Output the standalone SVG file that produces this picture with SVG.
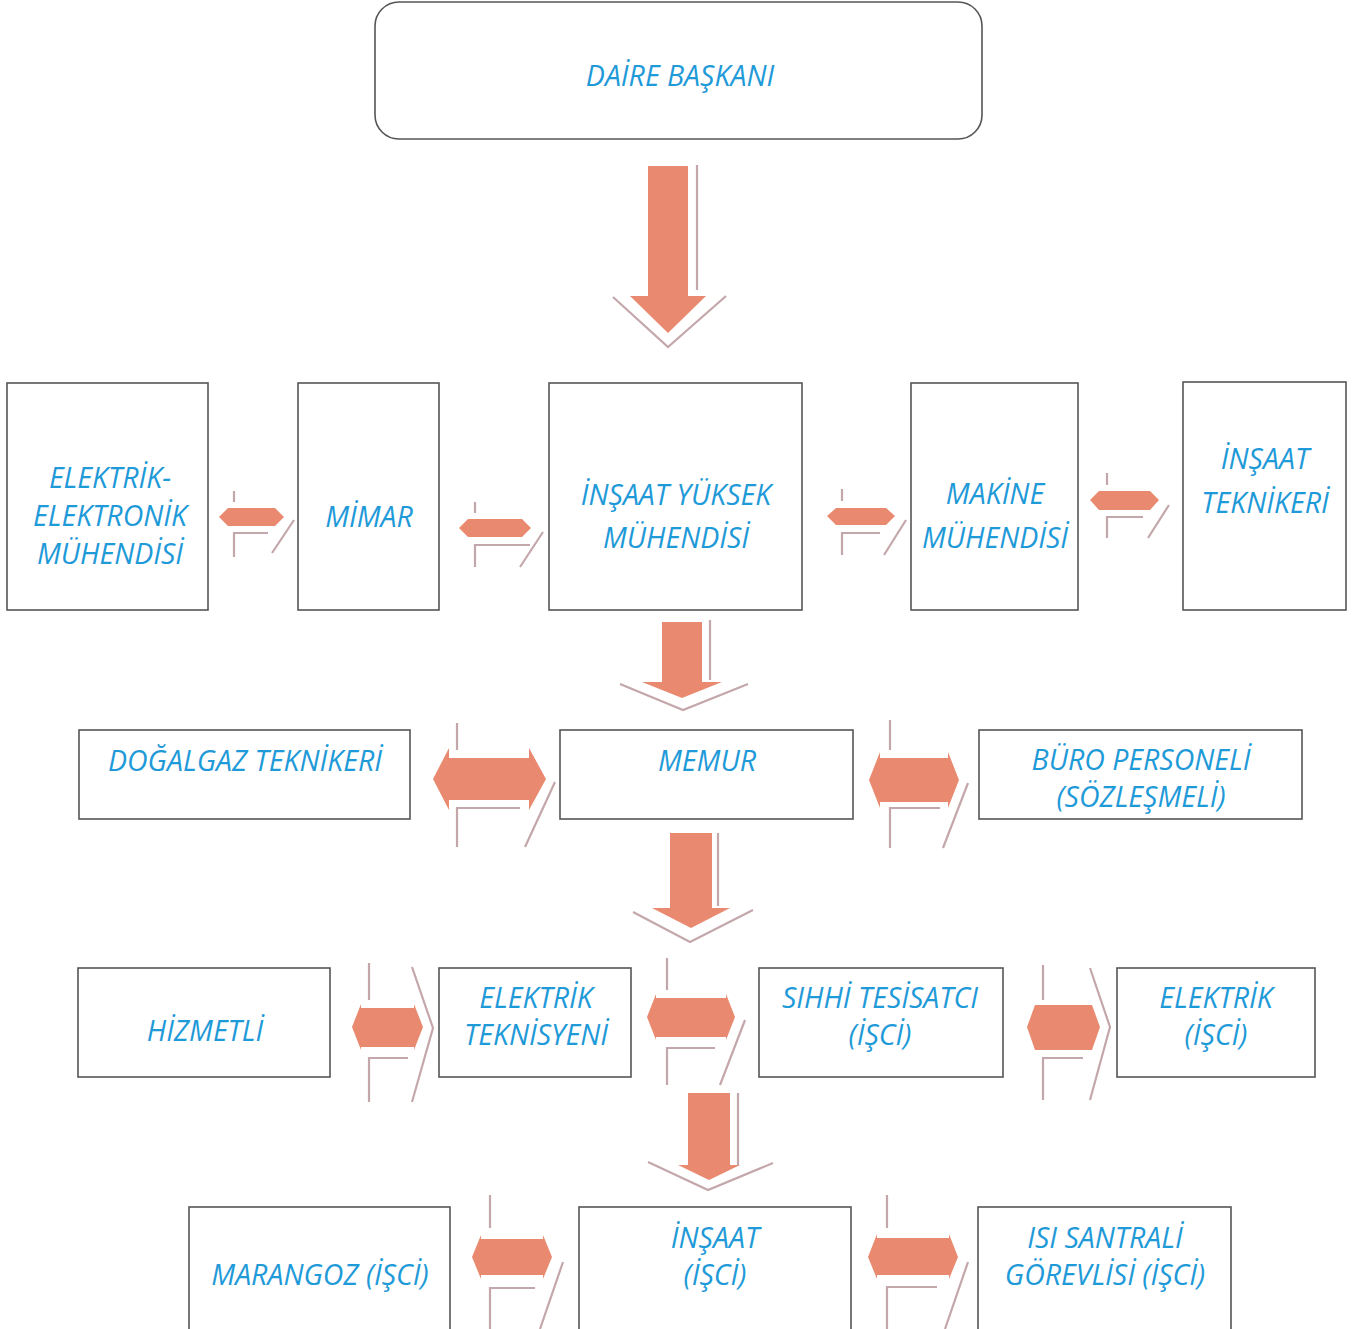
<svg xmlns="http://www.w3.org/2000/svg" width="1363" height="1329" viewBox="0 0 1363 1329">
<style>
.box{fill:#ffffff;stroke:#555555;stroke-width:1.6}
.t{font-family:"Open Sans","Noto Sans","Liberation Sans",sans-serif;font-style:italic;font-size:28.5px;fill:#1f9ad8;text-anchor:middle}
.arr{fill:#e98a70}
.sh{fill:none;stroke:#c4a7aa;stroke-width:2.2}
</style>
<rect width="1363" height="1329" fill="#ffffff"/>
<g id="connectors">
  <g id="down1">
    <polygon class="arr" points="648,166 688,166 688,296 706,296 668,333 630,296 648,296"/>
    <path class="sh" d="M697,165 V290 M613,297 L668,347 L726,296"/>
  </g>
  <g id="down2">
    <polygon class="arr" points="662,622 702,622 702,682 722,682 682,698 642,682 662,682"/>
    <path class="sh" d="M710,620 V680 M620,684 L683,710 L748,684"/>
  </g>
  <g id="down3">
    <polygon class="arr" points="670,833 712,833 712,908 730,908 691,928 652,908 670,908"/>
    <path class="sh" d="M718,833 V906 M633,912 L690,942 L753,910"/>
  </g>
  <g id="down4">
    <polygon class="arr" points="688,1093 730,1093 730,1165 740,1165 709,1180 678,1165 688,1165"/>
    <path class="sh" d="M738,1093 V1165 M648,1162 L708,1190 L773,1163"/>
  </g>
  <g id="h1">
    <polygon class="arr" points="219,517 228,508 275,508 284,517 275,526 228,526"/>
    <path class="sh" d="M234,491 V502 M234,557 V533 H268 M294,520 L272,553"/>
  </g>
  <g id="h2">
    <polygon class="arr" points="459,528 468,519 522,519 531,528 522,537 468,537"/>
    <path class="sh" d="M475,502 V513 M475,567 V545 H530 M543,532 L520,567"/>
  </g>
  <g id="h3">
    <polygon class="arr" points="827,516 836,508 886,508 895,516 886,525 836,525"/>
    <path class="sh" d="M842,489 V501 M842,555 V533 H880 M906,520 L884,555"/>
  </g>
  <g id="h4">
    <polygon class="arr" points="1090,500 1099,491 1150,491 1159,500 1150,510 1099,510"/>
    <path class="sh" d="M1107,473 V485 M1107,538 V517 H1143 M1169,505 L1148,538"/>
  </g>
  <g id="h5">
    <polygon class="arr" points="433,779 449,748 449,758 529,758 529,748 546,779 529,810 529,800 449,800 449,810"/>
    <path class="sh" d="M457,723 V750 M457,847 V808 H520 M555,782 L525,847"/>
  </g>
  <g id="h6">
    <polygon class="arr" points="869,780 880,752 880,758 948,758 948,752 959,780 948,808 948,802 880,802 880,808"/>
    <path class="sh" d="M890,720 V750 M890,848 V808 H940 M968,783 L943,848"/>
  </g>
  <g id="h7">
    <polygon class="arr" points="352,1027 361,1004 361,1008 414,1008 414,1004 423,1027 414,1050 414,1047 361,1047 361,1050"/>
    <path class="sh" d="M369,963 V1000 M369,1102 V1058 H408 M412,967 L433,1028 L412,1102"/>
  </g>
  <g id="h8">
    <polygon class="arr" points="647,1017 656,994 656,998 726,998 726,994 735,1017 726,1040 726,1037 656,1037 656,1040"/>
    <path class="sh" d="M667,958 V990 M667,1085 V1048 H715 M745,1020 L720,1085"/>
  </g>
  <g id="h9">
    <polygon class="arr" points="1027,1027 1035,1005 1092,1005 1100,1027 1092,1050 1035,1050"/>
    <path class="sh" d="M1043,965 V1000 M1043,1100 V1058 H1083 M1090,968 L1110,1027 L1090,1100"/>
  </g>
  <g id="h10">
    <polygon class="arr" points="472,1257 481,1235 481,1239 543,1239 543,1235 552,1257 543,1279 543,1275 481,1275 481,1279"/>
    <path class="sh" d="M490,1195 V1228 M490,1329 V1288 H535 M563,1262 L540,1329"/>
  </g>
  <g id="h11">
    <polygon class="arr" points="868,1257 877,1234 877,1238 949,1238 949,1234 958,1257 949,1279 949,1275 877,1275 877,1279"/>
    <path class="sh" d="M887,1195 V1228 M887,1329 V1287 H937 M968,1262 L945,1329"/>
  </g>
</g>
<g id="n-daire">
  <rect class="box" x="375" y="2" width="607" height="137" rx="24"/>
  <text class="t" x="680" y="86">DAİRE BAŞKANI</text>
</g>
<g id="n-elektrik-elektronik">
  <rect class="box" x="7" y="383" width="201" height="227"/>
  <text class="t" x="110" y="488">ELEKTRİK-</text>
  <text class="t" x="110" y="526">ELEKTRONİK</text>
  <text class="t" x="110" y="564">MÜHENDİSİ</text>
</g>
<g id="n-mimar">
  <rect class="box" x="298" y="383" width="141" height="227"/>
  <text class="t" x="369" y="527">MİMAR</text>
</g>
<g id="n-insaat-yuksek">
  <rect class="box" x="549" y="383" width="253" height="227"/>
  <text class="t" x="676" y="505">İNŞAAT YÜKSEK</text>
  <text class="t" x="676" y="548">MÜHENDİSİ</text>
</g>
<g id="n-makine">
  <rect class="box" x="911" y="383" width="167" height="227"/>
  <text class="t" x="995" y="504">MAKİNE</text>
  <text class="t" x="995" y="548">MÜHENDİSİ</text>
</g>
<g id="n-insaat-teknikeri">
  <rect class="box" x="1183" y="382" width="163" height="228"/>
  <text class="t" x="1265" y="469">İNŞAAT</text>
  <text class="t" x="1265" y="513">TEKNİKERİ</text>
</g>
<g id="n-dogalgaz">
  <rect class="box" x="79" y="730" width="331" height="89"/>
  <text class="t" x="245" y="771">DOĞALGAZ TEKNİKERİ</text>
</g>
<g id="n-memur">
  <rect class="box" x="560" y="730" width="293" height="89"/>
  <text class="t" x="707" y="771">MEMUR</text>
</g>
<g id="n-buro">
  <rect class="box" x="979" y="730" width="323" height="89"/>
  <text class="t" x="1141" y="770">BÜRO PERSONELİ</text>
  <text class="t" x="1141" y="807">(SÖZLEŞMELİ)</text>
</g>
<g id="n-hizmetli">
  <rect class="box" x="78" y="968" width="252" height="109"/>
  <text class="t" x="205" y="1041">HİZMETLİ</text>
</g>
<g id="n-elektrik-teknisyeni">
  <rect class="box" x="439" y="968" width="192" height="109"/>
  <text class="t" x="536" y="1008">ELEKTRİK</text>
  <text class="t" x="536" y="1045">TEKNİSYENİ</text>
</g>
<g id="n-sihhi">
  <rect class="box" x="759" y="968" width="244" height="109"/>
  <text class="t" x="880" y="1008">SIHHİ TESİSATCI</text>
  <text class="t" x="880" y="1045">(İŞCİ)</text>
</g>
<g id="n-elektrik-isci">
  <rect class="box" x="1117" y="968" width="198" height="109"/>
  <text class="t" x="1216" y="1008">ELEKTRİK</text>
  <text class="t" x="1216" y="1045">(İŞCİ)</text>
</g>
<g id="n-marangoz">
  <rect class="box" x="189" y="1207" width="261" height="140"/>
  <text class="t" x="320" y="1285">MARANGOZ (İŞCİ)</text>
</g>
<g id="n-insaat-isci">
  <rect class="box" x="579" y="1207" width="272" height="140"/>
  <text class="t" x="715" y="1248">İNŞAAT</text>
  <text class="t" x="715" y="1285">(İŞCİ)</text>
</g>
<g id="n-isi-santrali">
  <rect class="box" x="978" y="1207" width="253" height="140"/>
  <text class="t" x="1105" y="1248">ISI SANTRALİ</text>
  <text class="t" x="1105" y="1285">GÖREVLİSİ (İŞCİ)</text>
</g>
</svg>
